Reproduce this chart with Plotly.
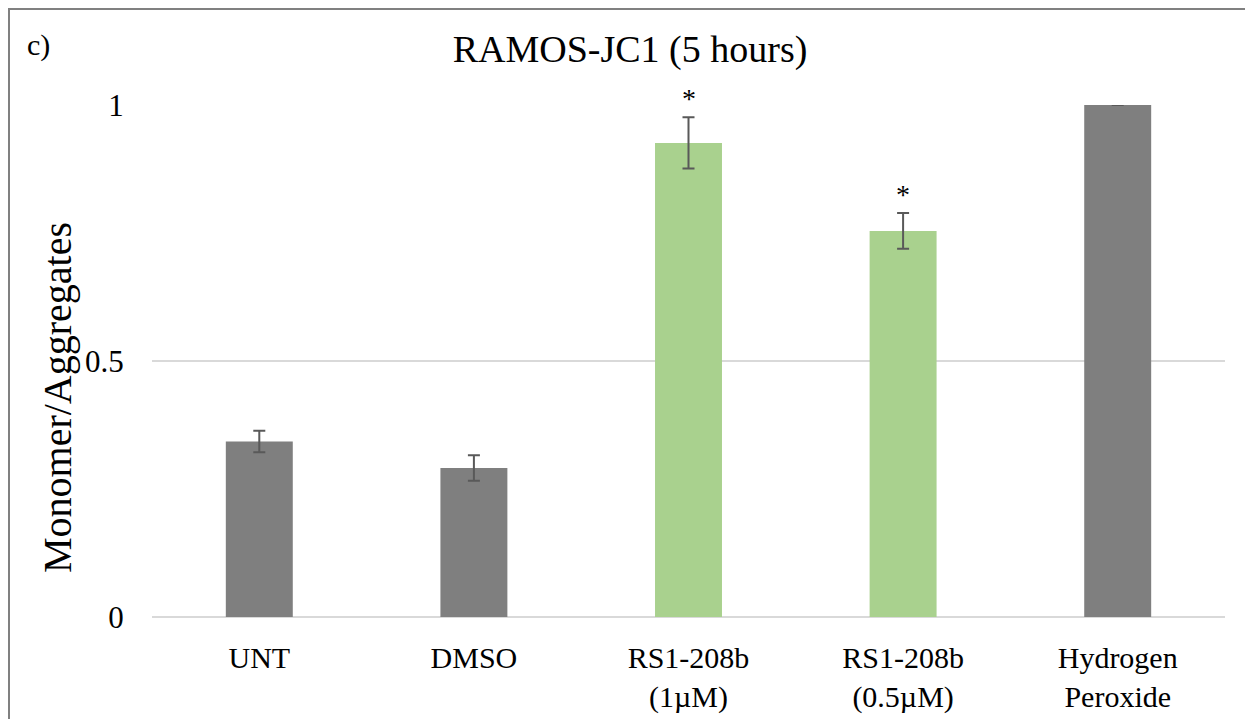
import plotly.graph_objects as go

categories = ["UNT", "DMSO", "RS1-208b<br>(1µM)", "RS1-208b<br>(0.5µM)", "Hydrogen<br>Peroxide"]
values = [0.343, 0.291, 0.926, 0.754, 1.0]
errors = [0.021, 0.025, 0.050, 0.035, 0.0]
colors = ["#7f7f7f", "#7f7f7f", "#a9d18e", "#a9d18e", "#7f7f7f"]
significant = [False, False, True, True, False]
y_ticks = [0, 0.5, 1]
y_ticktext = ["0", "0.5", "1"]

FONT = "Liberation Serif, Times New Roman, serif"

# page offset (browser body margin) compensation
OFF = 8
PL, PR, PT, PB = 152, 1225, 105, 617  # plot area in reference pixels
PW, PH = PR - PL, PB - PT


def px(xref_px):
    return (xref_px - PL) / PW


def py(yref_px):
    return (PB - yref_px) / PH


fig = go.Figure()
fig.add_trace(go.Bar(
    x=categories, y=values,
    marker=dict(color=colors, line=dict(width=0)),
    error_y=dict(type="data", array=errors, visible=True,
                 color="#595959", thickness=2, width=6),
    cliponaxis=False,
    showlegend=False,
))

annotations = []
for c, v, e, s in zip(categories, values, errors, significant):
    if s:
        annotations.append(dict(
            x=c, y=v + e, xref="x", yref="y",
            text="*", showarrow=False, yanchor="bottom",
            yshift=1, font=dict(family=FONT, size=28, color="#000000")))

annotations.append(dict(
    x=px(57), y=py(398), xref="paper", yref="paper",
    text="Monomer/Aggregates", textangle=-90, showarrow=False,
    xanchor="center", yanchor="middle",
    font=dict(family=FONT, size=40, color="#000000")))
annotations.append(dict(
    x=px(38), y=py(45), xref="paper", yref="paper",
    text="c)", showarrow=False, xanchor="center", yanchor="middle",
    font=dict(family=FONT, size=30, color="#000000")))

fig.update_layout(
    width=1253, height=719,
    margin=dict(l=PL - OFF, r=1253 - (PR - OFF), t=PT - OFF, b=719 - (PB - OFF)),
    paper_bgcolor="white", plot_bgcolor="white",
    bargap=0.688,
    title=dict(text="RAMOS-JC1 (5 hours)", x=(630 - OFF) / 1253, xanchor="center",
               y=1 - (49 - OFF) / 719, yanchor="middle",
               font=dict(family=FONT, size=38, color="#000000")),
    annotations=annotations,
    shapes=[
        dict(type="line", xref="paper", yref="paper",
             x0=px(OFF + 1), x1=px(OFF + 1),
             y0=py(OFF + 1), y1=py(760),
             line=dict(color="#808080", width=2)),
        dict(type="line", xref="paper", yref="paper",
             x0=px(OFF), x1=px(1300),
             y0=py(OFF + 1), y1=py(OFF + 1),
             line=dict(color="#808080", width=2)),
    ],
)
fig.update_yaxes(range=[0, 1], tickvals=y_ticks, ticktext=y_ticktext,
                 showgrid=True, gridcolor="#d9d9d9", gridwidth=1.5,
                 zeroline=True, zerolinecolor="#d9d9d9", zerolinewidth=1.5,
                 showline=False, ticks="outside", ticklen=21,
                 tickcolor="rgba(0,0,0,0)",
                 tickfont=dict(family=FONT, size=31, color="#000000"))
fig.update_xaxes(showgrid=False, showline=False, ticks="outside", ticklen=14,
                 tickcolor="rgba(0,0,0,0)",
                 tickfont=dict(family=FONT, size=30, color="#000000"))

fig.write_html("out.html")
